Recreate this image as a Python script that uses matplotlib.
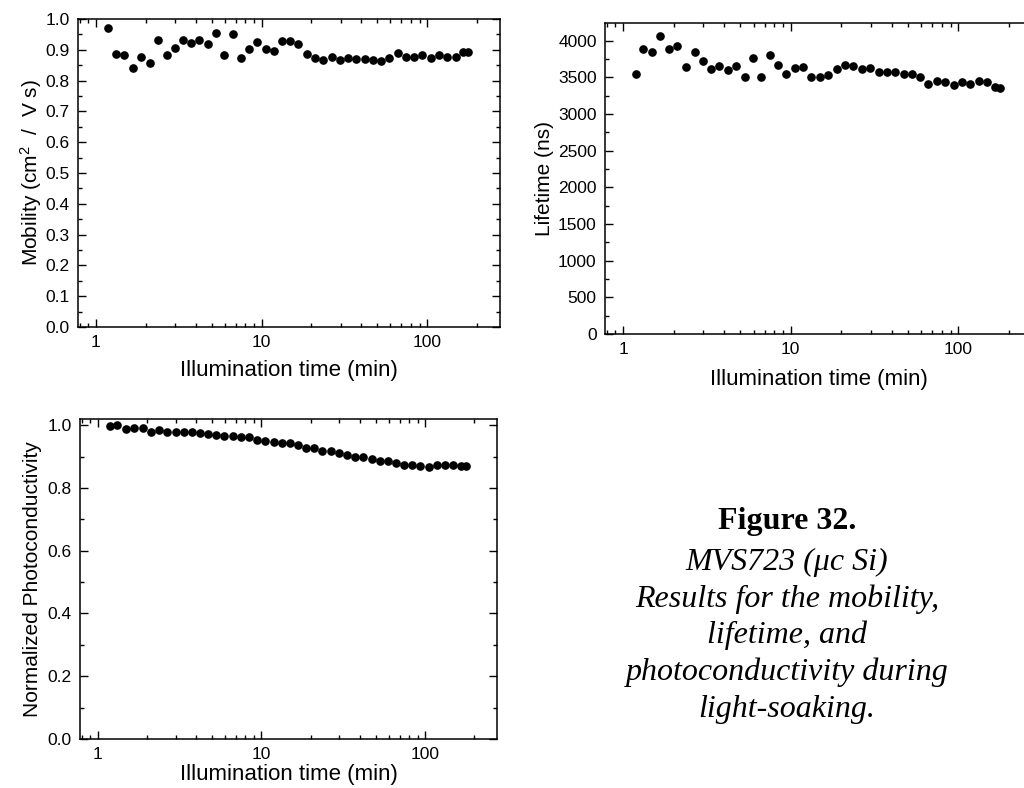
import matplotlib
import matplotlib.pyplot as plt
import numpy as np
from matplotlib.ticker import MultipleLocator, LogLocator, FuncFormatter, NullFormatter

matplotlib.use('Agg')

plt.rcParams['font.family'] = ['Liberation Sans', 'DejaVu Sans']
plt.rcParams['mathtext.default'] = 'regular'

# illumination times (min)
time_min = [1.19, 1.32, 1.48, 1.67, 1.88, 2.11, 2.36, 2.67, 2.99, 3.36,
            3.75, 4.21, 4.73, 5.31, 5.93, 6.69, 7.51, 8.39, 9.42, 10.6,
            11.9, 13.3, 14.9, 16.7, 18.8, 21.1, 23.6, 26.5, 29.8, 33.4,
            37.4, 41.9, 47.1, 52.8, 59.0, 66.3, 74.4, 83.5, 93.7, 105.2,
            118.1, 132.6, 148.8, 165.6, 177.4]

mobility = [0.971, 0.887, 0.884, 0.841, 0.876, 0.857, 0.933, 0.882, 0.907, 0.931,
            0.922, 0.931, 0.920, 0.954, 0.884, 0.950, 0.872, 0.901, 0.926, 0.903,
            0.896, 0.928, 0.927, 0.918, 0.886, 0.872, 0.868, 0.875, 0.867, 0.874,
            0.870, 0.869, 0.868, 0.863, 0.872, 0.889, 0.875, 0.875, 0.883, 0.872,
            0.884, 0.875, 0.875, 0.892, 0.894]

lifetime = [3551, 3891, 3850, 4068, 3891, 3932, 3642, 3841, 3728, 3619,
            3655, 3606, 3651, 3501, 3769, 3506, 3810, 3674, 3547, 3624,
            3642, 3506, 3510, 3529, 3615, 3665, 3655, 3615, 3624, 3574,
            3574, 3574, 3551, 3547, 3506, 3411, 3447, 3438, 3402, 3433,
            3411, 3447, 3433, 3374, 3361]

photocond = [0.999, 1.001, 0.987, 0.991, 0.990, 0.977, 0.984, 0.980, 0.979, 0.977,
             0.977, 0.974, 0.973, 0.968, 0.966, 0.966, 0.964, 0.962, 0.952, 0.949,
             0.946, 0.943, 0.944, 0.937, 0.929, 0.926, 0.919, 0.918, 0.911, 0.904,
             0.900, 0.898, 0.893, 0.887, 0.887, 0.880, 0.873, 0.872, 0.869, 0.868,
             0.873, 0.874, 0.872, 0.871, 0.870]

caption_title = 'Figure 32.'
caption_lines = ['MVS723 (\u03bcc Si)', 'Results for the mobility,', 'lifetime, and',
                 'photoconductivity during', 'light-soaking.']

fig = plt.figure(figsize=(10.24, 7.88), dpi=100)


def style_axis(ax):
    ax.set_xscale('log')
    ax.set_xlim(0.78, 275)
    ax.xaxis.set_major_locator(LogLocator(base=10))
    ax.xaxis.set_minor_locator(LogLocator(base=10, subs=np.arange(2, 10)))
    ax.xaxis.set_major_formatter(FuncFormatter(lambda v, p: '%g' % v))
    ax.xaxis.set_minor_formatter(NullFormatter())
    ax.tick_params(which='both', direction='in', top=True, right=True,
                   width=1.0, labelsize=12.5, color='black')
    ax.tick_params(which='major', length=5.5)
    ax.tick_params(which='minor', length=2.8)
    ax.tick_params(axis='x', which='major', pad=6)
    ax.tick_params(axis='y', which='major', pad=6)
    for s in ax.spines.values():
        s.set_linewidth(1.1)


# mobility
ax1 = fig.add_axes([0.0762, 0.585, 0.412, 0.391])
ax1.plot(time_min, mobility, 'o', color='black', ms=5.2)
style_axis(ax1)
ax1.set_ylim(0, 1.0)
ax1.yaxis.set_major_locator(MultipleLocator(0.1))
ax1.yaxis.set_minor_locator(MultipleLocator(0.05))
ax1.yaxis.set_major_formatter(FuncFormatter(lambda v, p: '%.1f' % v))
ax1.set_xlabel('Illumination time (min)', fontsize=16, labelpad=7)
ax1.set_ylabel('Mobility (cm$^{2}$  /  V s)', fontsize=15, labelpad=1)

# lifetime
ax2 = fig.add_axes([0.5908, 0.576, 0.417, 0.3947])
ax2.plot(time_min, lifetime, 'o', color='black', ms=5.2)
style_axis(ax2)
ax2.set_ylim(0, 4240)
ax2.yaxis.set_major_locator(MultipleLocator(500))
ax2.yaxis.set_minor_locator(MultipleLocator(250))
ax2.set_xlabel('Illumination time (min)', fontsize=16, labelpad=8)
ax2.set_ylabel('Lifetime (ns)', fontsize=15, labelpad=3)

# photoconductivity
ax3 = fig.add_axes([0.0781, 0.0622, 0.4072, 0.4061])
ax3.plot(time_min, photocond, 'o', color='black', ms=5.2)
style_axis(ax3)
ax3.set_ylim(0, 1.02)
ax3.yaxis.set_major_locator(MultipleLocator(0.2))
ax3.yaxis.set_minor_locator(MultipleLocator(0.1))
ax3.yaxis.set_major_formatter(FuncFormatter(lambda v, p: '%.1f' % v))
ax3.set_xlabel('Illumination time (min)', fontsize=16, labelpad=1)
ax3.set_ylabel('Normalized Photoconductivity', fontsize=15, labelpad=4)

# caption
fig.text(787 / 1024, 1 - 522 / 788, caption_title, ha='center', va='center',
         fontsize=23, fontweight='bold', family='Liberation Serif')
for i, line in enumerate(caption_lines):
    fig.text(787 / 1024, 1 - (562 + 36.8 * i) / 788, line, ha='center', va='center',
             fontsize=23, style='italic', family='Liberation Serif')

fig.savefig('out.png', dpi=100)
